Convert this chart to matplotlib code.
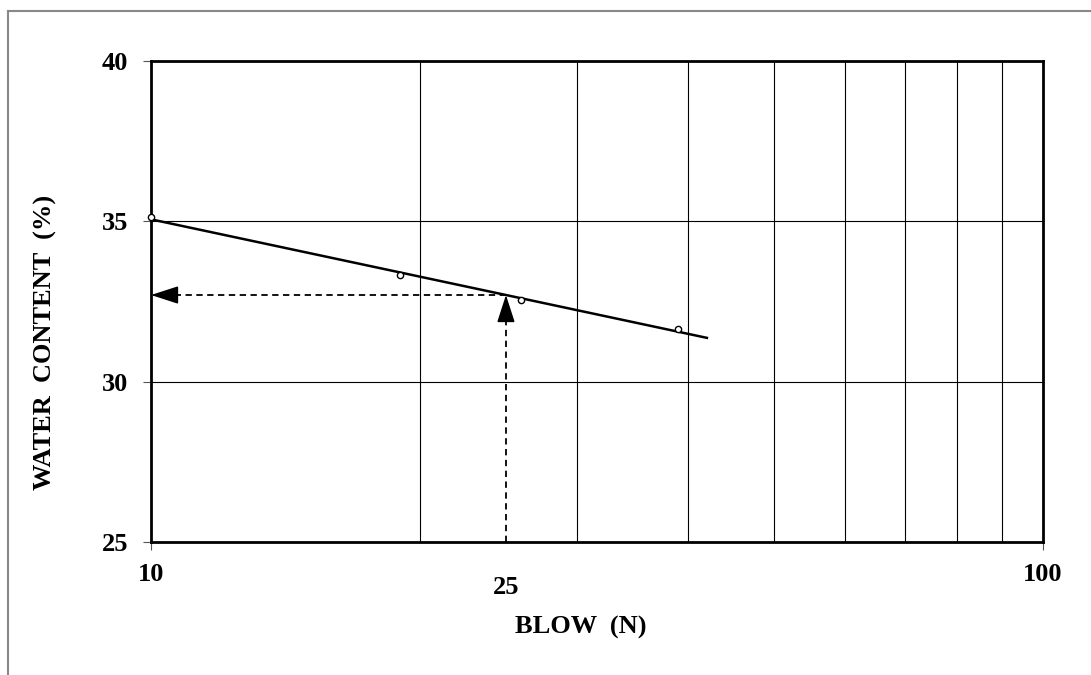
import numpy as np
import matplotlib
matplotlib.use("Agg")
import matplotlib.pyplot as plt
from matplotlib.lines import Line2D

# Liquid limit test data
blows = [10, 19, 26, 39]
water_content = [35.12, 33.33, 32.55, 31.63]
n_target = 25
line_end = 42

plt.rcParams['font.family'] = ['Liberation Serif', 'DejaVu Serif']
plt.rcParams['font.weight'] = 'bold'

fig = plt.figure(figsize=(10.91, 6.75), dpi=100)
ax = fig.add_axes([151 / 1091, 1 - 542 / 675, (1043 - 151) / 1091, (542 - 61) / 675])

ax.set_xscale('log')
ax.set_xlim(10, 100)
ax.set_ylim(25, 40)

# best fit line on semi-log scale
slope, intercept = np.polyfit(np.log10(blows), water_content, 1)
xf = np.array([10, line_end])
yf = slope * np.log10(xf) + intercept
ax.plot(xf, yf, color='black', lw=1.8, zorder=4)
ax.plot(blows, water_content, 'o', mfc='white', mec='black', ms=4.5, mew=1.0, zorder=5, clip_on=False)

# liquid limit at 25 blows
wl = slope * np.log10(n_target) + intercept
ax.plot([n_target, n_target], [25, wl - 0.55], color='black', ls=(0, (3.5, 2.5)), lw=1.3, zorder=3)
ax.plot([n_target, 10.5], [wl, wl], color='black', ls=(0, (3.5, 2.5)), lw=1.3, zorder=3)
ax.annotate('', xy=(n_target, wl), xytext=(n_target, wl - 0.6),
            arrowprops=dict(arrowstyle='-|>,head_length=1.7,head_width=0.55', color='black',
                            lw=1.2, shrinkA=0, shrinkB=0), zorder=6)
ax.annotate('', xy=(10, wl), xytext=(10.6, wl),
            arrowprops=dict(arrowstyle='-|>,head_length=1.7,head_width=0.55', color='black',
                            lw=1.2, shrinkA=0, shrinkB=0), zorder=6)

# grid
ax.set_yticks([25, 30, 35, 40])
ax.set_yticklabels(['25', '30', '35', '40'], fontsize=19, fontweight='bold')
ax.set_xticks([10, 100])
ax.set_xticklabels(['10', '100'], fontsize=19, fontweight='bold')
ax.set_xticks([20, 30, 40, 50, 60, 70, 80, 90], minor=True)
ax.xaxis.set_minor_formatter(plt.NullFormatter())
ax.grid(True, which='minor', axis='x', color='black', lw=0.8)
ax.grid(True, which='major', axis='y', color='black', lw=0.8)
ax.tick_params(axis='x', which='minor', length=0)
ax.tick_params(axis='both', which='major', length=6, width=0.8, direction='out', color='#555555')
ax.tick_params(axis='x', which='major', pad=9)
ax.tick_params(axis='y', which='major', pad=10.5)
for s in ax.spines.values():
    s.set_linewidth(2.0)
ax.set_axisbelow(True)

ax.text(n_target, -0.07, '25', transform=ax.get_xaxis_transform(), ha='center', va='top',
        fontsize=19, fontweight='bold')

fig.text(581 / 1091, 1 - 627 / 675, 'BLOW  (N)', ha='center', va='center', fontsize=19, fontweight='bold')
fig.text(45 / 1091, 1 - 342 / 675, 'WATER  CONTENT  (%)', ha='center', va='center', rotation=90,
         fontsize=19, fontweight='bold')

# outer chart frame (clipped at right and bottom)
fig.add_artist(Line2D([8 / 1091, 1], [1 - 11 / 675, 1 - 11 / 675], color='#888888', lw=1.5))
fig.add_artist(Line2D([8 / 1091, 8 / 1091], [1 - 11 / 675, 0], color='#888888', lw=1.5))

fig.savefig('out.png', dpi=100)
